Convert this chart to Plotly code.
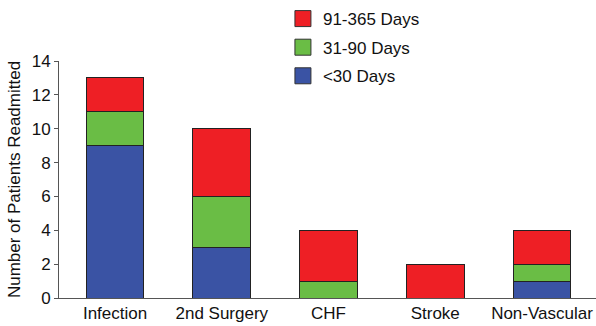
import plotly.graph_objects as go

categories = ["Infection", "2nd Surgery", "CHF", "Stroke", "Non-Vascular"]
lt30 = [9, 3, 0, 0, 1]
d31_90 = [2, 3, 1, 0, 1]
d91_365 = [2, 4, 3, 2, 2]

series = [
    ("<30 Days", lt30, "#3A53A4"),
    ("31-90 Days", d31_90, "#6ABD45"),
    ("91-365 Days", d91_365, "#EE1F25"),
]
y_ticks = [0, 2, 4, 6, 8, 10, 12, 14]

FONT = "Liberation Sans, Arial, Helvetica, sans-serif"

fig = go.Figure()
for name, vals, color in series:
    fig.add_trace(go.Bar(
        x=categories, y=vals, name=name, showlegend=False,
        marker=dict(color=color, line=dict(color="#222222", width=1)),
        width=0.54,
    ))
# legend entries: longest period on top
for name, vals, color in reversed(series):
    fig.add_trace(go.Scatter(
        x=[None], y=[None], mode="markers", name=name, legendgroup=name,
        marker=dict(symbol="square", size=20, color=color,
                    line=dict(color="#333333", width=1)),
    ))

fig.update_layout(
    barmode="stack",
    width=596, height=326,
    margin=dict(l=59, r=0, t=61, b=28, autoexpand=False),
    paper_bgcolor="white", plot_bgcolor="white",
    font=dict(family=FONT, size=16, color="#111111"),
    legend=dict(
        x=0.417, y=1.253, xanchor="left", yanchor="top",
        traceorder="grouped", tracegroupgap=3.5,
        font=dict(family=FONT, size=17, color="#111111"),
        bgcolor="rgba(0,0,0,0)", itemsizing="trace",
    ),
    xaxis=dict(
        type="category", range=[-0.525, 4.506],
        showline=True, linecolor="#555555", linewidth=1,
        ticks="", showgrid=False, zeroline=False,
        tickfont=dict(family=FONT, size=17, color="#111111"),
    ),
    yaxis=dict(
        range=[0, 14], tickvals=y_ticks,
        showline=True, linecolor="#555555", linewidth=1,
        ticks="outside", ticklen=4, tickcolor="#555555",
        showgrid=False, zeroline=False,
        tickfont=dict(family=FONT, size=17, color="#111111"),
        title=dict(text="Number of Patients Readmitted", standoff=6,
                   font=dict(family=FONT, size=17, color="#111111")),
    ),
)

fig.write_html(
    "out.html",
    config={"displayModeBar": False},
    post_script="document.body.style.margin='0';document.body.style.overflow='hidden';",
)
